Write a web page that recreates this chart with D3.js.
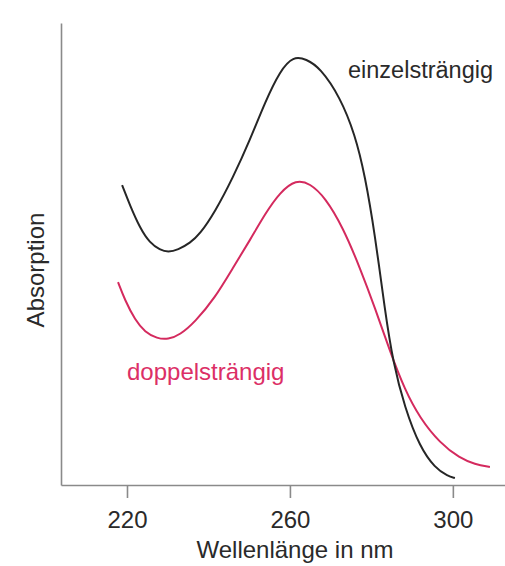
<!DOCTYPE html>
<html lang="de">
<head>
    <meta charset="UTF-8">
    <title>Absorption DNA</title>
    <script src="https://cdn.jsdelivr.net/npm/d3@7"></script>
    <style>
        body { margin: 0; background: #fff; }
        svg { display: block; font-family: "Liberation Sans", Arial, sans-serif; }
        .axis path, .axis line { stroke: #8a8a8a; stroke-width: 1.6; fill: none; }
        .axis text { font-size: 24px; fill: #2a2a2a; font-family: "Liberation Sans", Arial, sans-serif; }
    </style>
</head>
<body>
<script>
    // Wellenlänge (nm) und Absorption (willkürliche Einheiten)
    let einzelNm  = [218.8, 220.7, 223.2, 225.6, 228.1, 230.1, 232.5, 235.5, 237.9, 241.6, 246.0, 250.2, 253.9, 257.6, 260.8, 264.0, 267.4, 272.3, 276.0, 278.4, 280.9, 283.3, 285.3, 288.2, 291.9, 295.6, 298.8, 300.5];
    let einzelAbs = [0.649, 0.606, 0.556, 0.524, 0.509, 0.504, 0.509, 0.524, 0.543, 0.591, 0.665, 0.747, 0.829, 0.897, 0.928, 0.922, 0.903, 0.840, 0.758, 0.671, 0.541, 0.379, 0.266, 0.167, 0.082, 0.037, 0.019, 0.015];

    let doppelNm  = [217.8, 219.5, 222.0, 224.4, 227.4, 230.1, 233.0, 236.7, 241.6, 246.0, 250.2, 253.9, 257.6, 261.5, 264.9, 268.6, 273.0, 277.2, 280.9, 284.6, 288.2, 291.9, 296.8, 301.7, 305.4, 309.1];
    let doppelAbs = [0.439, 0.400, 0.357, 0.331, 0.317, 0.315, 0.325, 0.353, 0.405, 0.470, 0.530, 0.587, 0.634, 0.661, 0.653, 0.623, 0.558, 0.470, 0.383, 0.288, 0.206, 0.145, 0.091, 0.058, 0.045, 0.039];

    let xTicks = [220, 260, 300];

    let width = 505, height = 566;
    let svg = d3.select("body").append("svg")
        .attr("width", width)
        .attr("height", height);

    let x = d3.scaleLinear().domain([203.8, 312.8]).range([61, 505]);
    let y = d3.scaleLinear().domain([0, 1]).range([485, 23]);

    /* Achsen */
    svg.append("g")
        .attr("class", "axis")
        .attr("transform", "translate(0, 485)")
        .call(d3.axisBottom(x).tickValues(xTicks).tickSizeInner(13).tickSizeOuter(0).tickPadding(13).tickFormat(d3.format("d")));

    svg.append("g")
        .attr("class", "axis")
        .attr("transform", "translate(61, 0)")
        .call(d3.axisLeft(y).tickValues([]).tickSizeOuter(0));

    /* Kurven */
    let line = d3.line()
        .x(d => x(d[0]))
        .y(d => y(d[1]))
        .curve(d3.curveBasis);

    let einzel = d3.zip(einzelNm, einzelAbs);
    let doppel = d3.zip(doppelNm, doppelAbs);

    svg.append("path")
        .datum(doppel)
        .attr("d", line)
        .attr("fill", "none")
        .attr("stroke", "#d42a5e")
        .attr("stroke-width", 2);

    svg.append("path")
        .datum(einzel)
        .attr("d", line)
        .attr("fill", "none")
        .attr("stroke", "#262626")
        .attr("stroke-width", 2);

    /* Beschriftung */
    svg.append("text")
        .attr("x", 348).attr("y", 78)
        .attr("font-size", 23.5)
        .attr("fill", "#2a2a2a")
        .text("einzelsträngig");

    svg.append("text")
        .attr("x", 127).attr("y", 380)
        .attr("font-size", 24)
        .attr("fill", "#dc2f66")
        .text("doppelsträngig");

    svg.append("text")
        .attr("x", 295).attr("y", 558)
        .attr("text-anchor", "middle")
        .attr("font-size", 24)
        .attr("fill", "#2a2a2a")
        .text("Wellenlänge in nm");

    svg.append("text")
        .attr("transform", "translate(44, 270) rotate(-90)")
        .attr("text-anchor", "middle")
        .attr("font-size", 24)
        .attr("fill", "#2a2a2a")
        .text("Absorption");
</script>
</body>
</html>
